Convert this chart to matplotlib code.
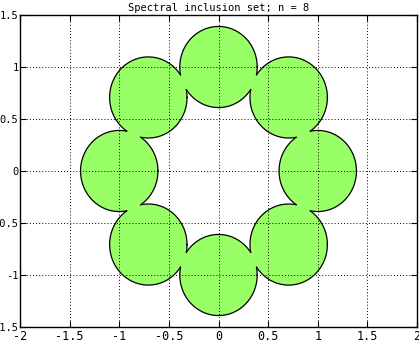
import numpy as np
import matplotlib
matplotlib.use('Agg')
import matplotlib.pyplot as plt

# disc data: centres on the unit circle, common radius
n = 8
center_angles_deg = [0, 45, 90, 135, 180, 225, 270, 315]
disc_radius = 0.39
xticks = [-2, -1.5, -1, -0.5, 0, 0.5, 1, 1.5, 2]
yticks = [-1.5, -1, -0.5, 0, 0.5, 1, 1.5]
fill_color = '#99FF66'

plt.rcParams['font.family'] = 'DejaVu Sans Mono'
plt.rcParams['axes.unicode_minus'] = False

fig = plt.figure(figsize=(4.19, 3.44), dpi=100)
ax = fig.add_axes([20 / 419, 17 / 344, 397 / 419, 312 / 344])

ang = np.deg2rad(np.array(center_angles_deg))
cx = np.cos(ang)
cy = np.sin(ang)
t = np.linspace(0, 2 * np.pi, 721)

# filled discs
for x0, y0 in zip(cx, cy):
    ax.fill(x0 + disc_radius * np.cos(t), y0 + disc_radius * np.sin(t),
            color=fill_color, lw=0, zorder=1)

# outline of the union: keep arc parts not inside another disc
for i, (x0, y0) in enumerate(zip(cx, cy)):
    px = x0 + disc_radius * np.cos(t)
    py = y0 + disc_radius * np.sin(t)
    inside = np.zeros_like(t, dtype=bool)
    for j, (x1, y1) in enumerate(zip(cx, cy)):
        if j != i:
            inside |= (px - x1) ** 2 + (py - y1) ** 2 < disc_radius ** 2
    px = np.where(inside, np.nan, px)
    py = np.where(inside, np.nan, py)
    ax.plot(px, py, color='black', lw=0.9, zorder=2)

ax.set_xlim(-2, 2)
ax.set_ylim(-1.5, 1.5)
ax.set_xticks(xticks)
ax.set_yticks(yticks)
ax.set_xticklabels([f'{v:g}' for v in xticks])
ax.set_yticklabels([f'{v:g}' for v in yticks])
ax.grid(True, color='black', linestyle=(0, (1, 2.2)), lw=0.7)
ax.set_axisbelow(False)
ax.tick_params(direction='in', length=4, top=True, right=True)
ax.tick_params(axis='x', labelsize=8.5, pad=2)
ax.tick_params(axis='y', labelsize=7.5, pad=1)
for s in ax.spines.values():
    s.set_linewidth(1)

ax.set_title(f'Spectral inclusion set; n = {n}', fontsize=7.5, pad=3)

fig.savefig('out.png', dpi=100)
